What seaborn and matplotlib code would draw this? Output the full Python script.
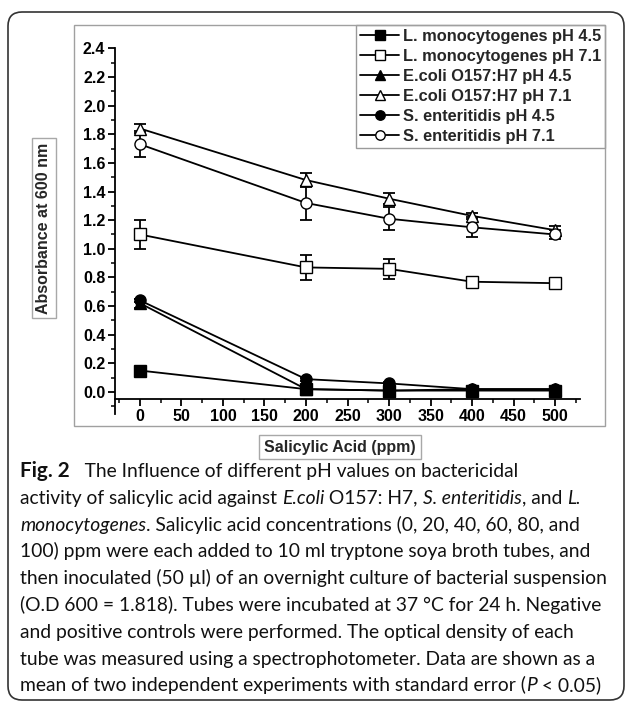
import numpy as np
import pandas as pd
import seaborn as sns
import matplotlib
matplotlib.use("Agg")
import matplotlib.pyplot as plt
from matplotlib.patches import Rectangle, FancyBboxPatch
from matplotlib.transforms import IdentityTransform
from matplotlib.ticker import MultipleLocator, FormatStrFormatter

# ---------------- data ----------------
conc = [0, 200, 300, 400, 500]
series_labels = [
    "L. monocytogenes pH 4.5",
    "L. monocytogenes pH 7.1",
    "E.coli O157:H7 pH 4.5",
    "E.coli O157:H7 pH 7.1",
    "S. enteritidis pH 4.5",
    "S. enteritidis pH 7.1",
]
lm45 = [0.15, 0.02, 0.01, 0.01, 0.01]
lm71 = [1.10, 0.87, 0.86, 0.77, 0.76]
ec45 = [0.62, 0.02, 0.01, 0.02, 0.02]
ec71 = [1.84, 1.48, 1.35, 1.23, 1.13]
se45 = [0.64, 0.09, 0.06, 0.02, 0.02]
se71 = [1.73, 1.32, 1.21, 1.15, 1.10]

lm45_err = [0.01, 0.01, 0.01, 0.01, 0.01]
lm71_err = [0.10, 0.09, 0.07, 0.03, 0.03]
ec45_err = [0.03, 0.01, 0.01, 0.01, 0.01]
ec71_err = [0.03, 0.05, 0.04, 0.02, 0.03]
se45_err = [0.01, 0.01, 0.01, 0.01, 0.01]
se71_err = [0.09, 0.12, 0.08, 0.07, 0.03]

x_ticks = [0, 50, 100, 150, 200, 250, 300, 350, 400, 450, 500]
y_ticks = [0.0, 0.2, 0.4, 0.6, 0.8, 1.0, 1.2, 1.4, 1.6, 1.8, 2.0, 2.2, 2.4]

x_label = "Salicylic Acid (ppm)"
y_label = "Absorbance at 600 nm"

caption = [
    [("Fig. 2", "bold"), ("   The Influence of different pH values on bactericidal", "normal")],
    [("activity of salicylic acid against ", "normal"), ("E.coli", "italic"), (" O157: H7, ", "normal"),
     ("S. enteritidis", "italic"), (", and ", "normal"), ("L.", "italic")],
    [("monocytogenes", "italic"), (". Salicylic acid concentrations (0, 20, 40, 60, 80, and", "normal")],
    [("100) ppm were each added to 10 ml tryptone soya broth tubes, and", "normal")],
    [("then inoculated (50 µl) of an overnight culture of bacterial suspension", "normal")],
    [("(O.D 600 = 1.818). Tubes were incubated at 37 °C for 24 h. Negative", "normal")],
    [("and positive controls were performed. The optical density of each", "normal")],
    [("tube was measured using a spectrophotometer. Data are shown as a", "normal")],
    [("mean of two independent experiments with standard error (", "normal"), ("P", "italic"),
     (" < 0.05)", "normal")],
]

# ---------------- figure ----------------
sns.set_style("ticks")
plt.rcParams["font.family"] = ["Liberation Sans", "DejaVu Sans"]

W, H = 632, 710
fig = plt.figure(figsize=(W / 100, H / 100), dpi=100)

def fx(px):
    return px / W

def fy(py):
    return 1 - py / H

ax_left, ax_right, ax_top, ax_bot = 115, 580, 48.3, 413.5
ax = fig.add_axes([fx(ax_left), fy(ax_bot), (ax_right - ax_left) / W, (ax_bot - ax_top) / H])
ax.set_facecolor("none")

vals = [lm45, lm71, ec45, ec71, se45, se71]
errs = [lm45_err, lm71_err, ec45_err, ec71_err, se45_err, se71_err]
markers = ["s", "s", "^", "^", "o", "o"]
fills = ["black", "white", "black", "white", "black", "white"]

for v, e in zip(vals, errs):
    ax.errorbar(conc, v, yerr=e, fmt="none", ecolor="black", elinewidth=1.3,
                capsize=4, capthick=1.3, zorder=2)

for lab, v, m, fc in zip(series_labels, vals, markers, fills):
    df = pd.DataFrame({"conc": conc, "abs": v})
    sns.lineplot(data=df, x="conc", y="abs", ax=ax, color="black", linewidth=1.3,
                 marker=m, markersize=8 if m != "^" else 9, markerfacecolor=fc,
                 markeredgecolor="black", markeredgewidth=1.0, label=lab, zorder=3)

ax.set_xlim(-30, 530)
ax.set_ylim(-0.15, 2.4)
ax.spines["top"].set_visible(False)
ax.spines["right"].set_visible(False)
ax.spines["bottom"].set_position(("data", -0.05))
for s in ("left", "bottom"):
    ax.spines[s].set_linewidth(1.3)
    ax.spines[s].set_color("black")
ax.set_xticks(x_ticks)
ax.set_yticks(y_ticks)
ax.xaxis.set_minor_locator(MultipleLocator(25))
ax.yaxis.set_minor_locator(MultipleLocator(0.1))
ax.yaxis.set_major_formatter(FormatStrFormatter("%.1f"))
ax.tick_params(which="major", direction="out", length=5, width=1.3, labelsize=11.5, pad=2,
               color="black", labelcolor="black")
ax.tick_params(which="minor", direction="out", length=3, width=1.1, color="black")
for t in ax.get_xticklabels() + ax.get_yticklabels():
    t.set_fontweight("bold")
ax.set_xlabel("")
ax.set_ylabel("")

# legend
handles, labels = ax.get_legend_handles_labels()
leg = ax.legend(handles, labels, loc="upper right", bbox_to_anchor=(fx(605), fy(25)),
                bbox_transform=fig.transFigure, frameon=True, fancybox=False,
                edgecolor="#9a9a9a", framealpha=1, borderpad=0.25, borderaxespad=0,
                handlelength=2.4, handletextpad=0.2, labelspacing=0.3, markerscale=0.85,
                prop={"family": "Liberation Sans", "weight": "bold", "size": 11.8})
leg.get_frame().set_linewidth(1.0)

# axis labels in boxes
box = dict(boxstyle="square,pad=0.3", facecolor="white", edgecolor="#a8a8a8", linewidth=1)
fig.text(fx(44), fy(228), y_label, rotation=90, ha="center", va="center",
         fontsize=11.5, fontweight="bold", bbox=box)
fig.text(fx(340), fy(447), x_label, ha="center", va="center",
         fontsize=11.5, fontweight="bold", bbox=box)

# chart frame
fig.patches.append(Rectangle((fx(74), fy(426)), (605 - 74) / W, (426 - 25) / H,
                             transform=fig.transFigure, fill=False,
                             edgecolor="#a0a0a0", linewidth=1, zorder=0))
# outer rounded box
fig.patches.append(FancyBboxPatch((8, H - 700), 616, 688,
                                  boxstyle="round,pad=0,rounding_size=14",
                                  transform=IdentityTransform(), fill=False,
                                  edgecolor="#333333", linewidth=1.2, zorder=0))

# caption
renderer = fig.canvas.get_renderer()
cap_family = ["Lato", "DejaVu Sans"]
base_size = 14.0
probe = fig.text(0, 0, caption[4][0][0], fontsize=base_size, family=cap_family)
wpx = probe.get_window_extent(renderer).width
probe.remove()
cap_size = base_size * 590.0 / wpx

for i, segs in enumerate(caption):
    x = 20.0
    yb = 477 + i * 26.8
    for txt, sty in segs:
        kw = dict(fontsize=cap_size, family=cap_family, va="baseline", ha="left", color="#111111")
        if sty == "bold":
            kw["fontweight"] = "bold"
            kw["fontsize"] = cap_size * 1.08
        elif sty == "italic":
            kw["fontstyle"] = "italic"
        t = fig.text(fx(x), fy(yb), txt, **kw)
        x += t.get_window_extent(renderer).width

fig.savefig("out.png", dpi=100)
